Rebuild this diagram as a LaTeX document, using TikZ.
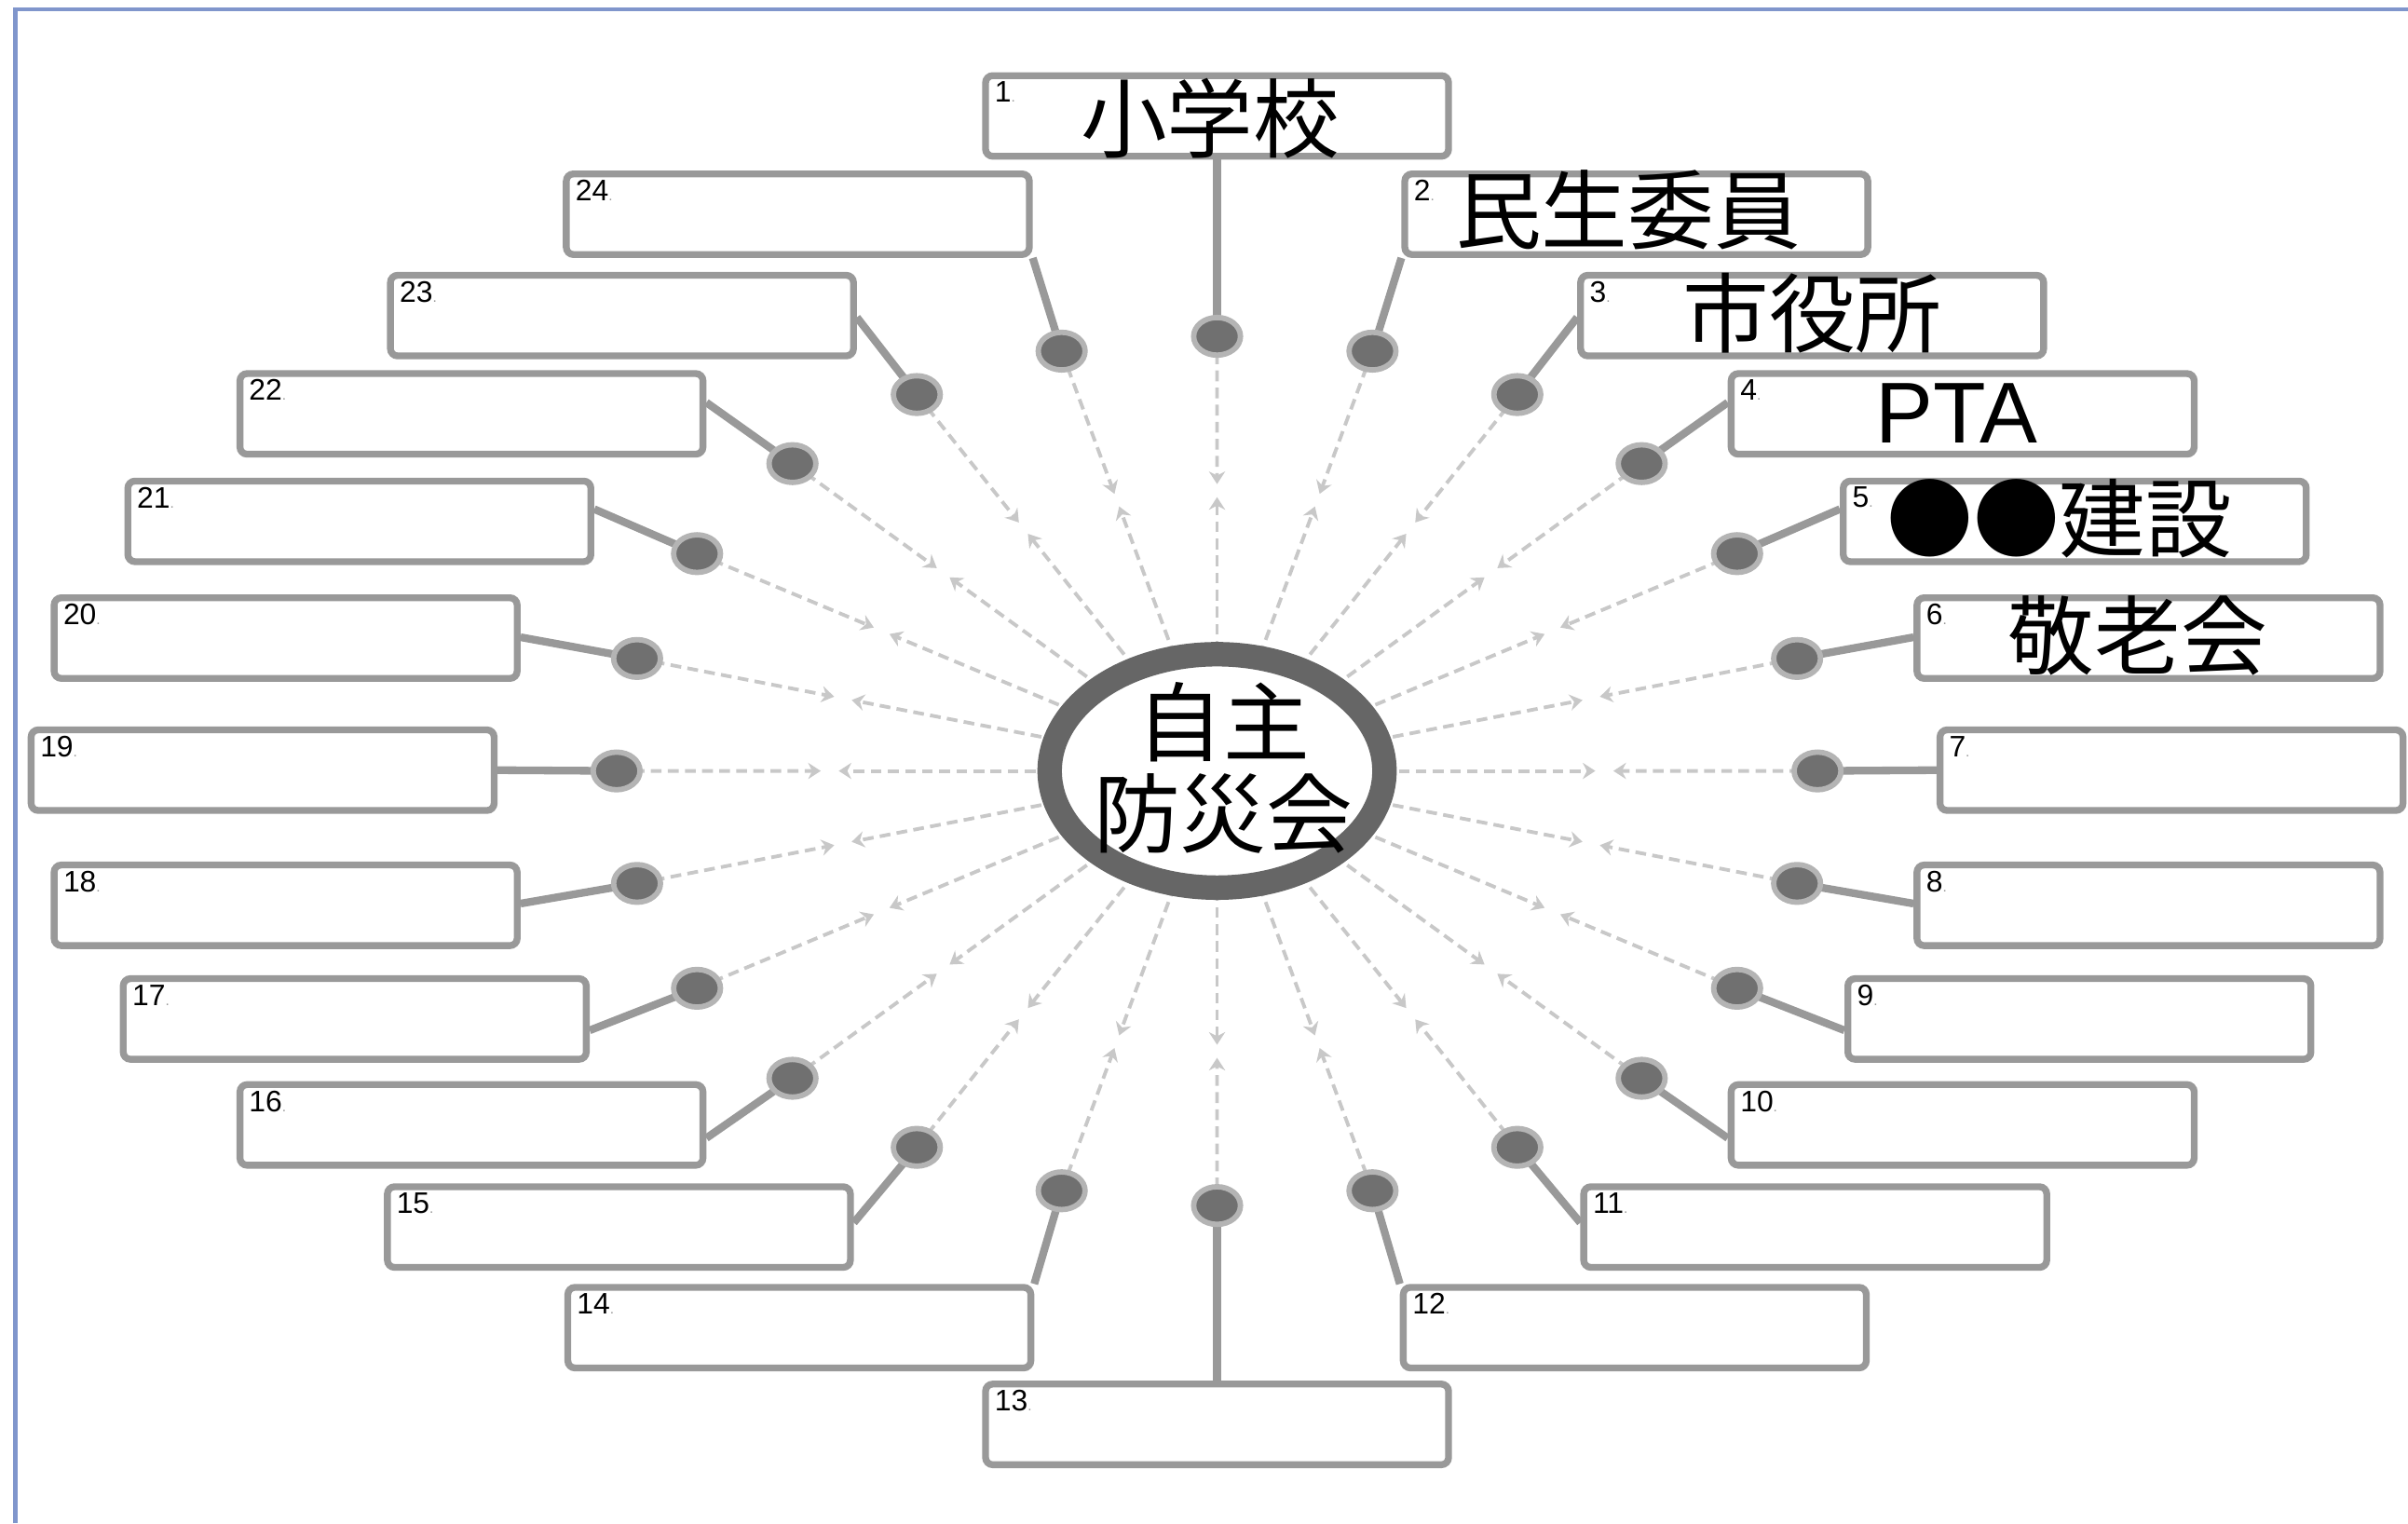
\documentclass[tikz,border=0pt]{standalone}
\usepackage{fontspec}
\newfontfamily\cjkfont{Noto Sans CJK JP}
\newfontfamily\arialfont{Liberation Sans}
\usetikzlibrary{shapes.geometric,calc,arrows.meta,backgrounds}
\definecolor{boxgray}{RGB}{153,153,153}
\definecolor{dotdark}{RGB}{112,112,112}
\definecolor{dotlight}{RGB}{180,180,180}
\definecolor{raygray}{RGB}{200,200,200}
\definecolor{ringgray}{RGB}{102,102,102}
\definecolor{framec}{RGB}{128,150,204}
\begin{document}
\begin{tikzpicture}[x=0.03cm,y=-0.03cm,
  box/.style={draw=boxgray, line width=3.8pt, rounded corners=4pt, fill=white,
    minimum width=9.045cm, minimum height=1.575cm, inner sep=0pt},
  dotnode/.style={ellipse, fill=dotdark, draw=dotlight, line width=3pt,
    minimum width=0.915cm, minimum height=0.735cm, inner sep=0pt},
  link/.style={draw=boxgray, line width=4.3pt},
  ray/.style={draw=raygray, line width=2pt, dash pattern=on 6pt off 3.5pt,
    -{Stealth[length=7pt,width=9pt]}},
  num/.style={anchor=north west, inner sep=0pt, font=\arialfont\fontsize{16.5}{18}\selectfont},
  big/.style={inner sep=0pt, font=\cjkfont\fontsize{48}{56}\selectfont},
  ringnode/.style={ellipse, draw=ringgray, line width=13.6pt, fill=white,
    minimum width=6.54cm, minimum height=4.56cm, inner sep=0pt},
  framestyle/.style={draw=framec, line width=2.2pt}
]
\useasboundingbox (0,0) rectangle (1568,992);

% frame
\draw[framestyle] (10,992) -- (10,6) -- (1568,6);

% boxes
\node[box] (b1) at (792.5,75.5) {};
\node[box] (b13) at (792.5,927.5) {};
\foreach \k/\dx/\cy in {2/273/139.5, 3/387.5/205.5, 4/485.5/269.5, 5/558.5/339.5,
  6/606.5/415.5, 7/621.5/501.5, 8/606.5/589.5, 9/561.5/663.5, 10/485.5/732.5,
  11/389.5/799, 12/272/864.5}{
  \pgfmathtruncatemacro\m{26-\k}
  \node[box] (b\k) at ({792.5+\dx},\cy) {};
  \node[box] (b\m) at ({792.5-\dx},\cy) {};
}

% number labels
\foreach \k in {1,...,24}{
  \node[num] (n\k) at ($(b\k.north west)+(8,6)$) {\k{\color{boxgray}\fontsize{8}{8}\selectfont.}};
}

% dots
\foreach \k in {1,...,24}{
  \pgfmathsetmacro\th{90-15*(\k-1)}
  \node[dotnode] (d\k) at ({792.5+391*cos(\th)},{502-283*sin(\th)}) {};
}

% centre
\node[ringnode] (c) at (792.5,502) {};
\node[inner sep=0pt, align=center, font=\cjkfont\fontsize{48}{51}\selectfont] (ct) at (796.5,500) {自主\\防災会};

% box texts
\node[big] (t1) at (788,77) {小学校};
\node[big] (t2) at (1060,137) {民生委員};
\node[big] (t3) at (1180,204) {市役所};
\node[inner sep=0pt, font=\arialfont\fontsize{48}{56}\selectfont] (t4) at (1274,269) {PTA};
\node[big] (t5) at (1341,338) {●●建設};
\node[big] (t6) at (1392,414) {敬老会};

\begin{pgfonlayer}{background}
  \draw[link] (d1.center) -- (b1.south);
  \draw[link] (d13.center) -- (b13.north);
  \draw[link] (d2.center) -- (b2.south west);
  \draw[link] (d24.center) -- (b24.south east);
  \draw[link] (d12.center) -- (b12.north west);
  \draw[link] (d14.center) -- (b14.north east);
  \foreach \k/\f in {3/0.52, 4/0.37, 5/0.36, 6/0.49, 7/0.5, 8/0.48, 9/0.63, 10/0.65, 11/0.45}{
    \pgfmathtruncatemacro\m{26-\k}
    \draw[link] (d\k.center) -- ($(b\k.north west)!\f!(b\k.south west)$);
    \draw[link] (d\m.center) -- ($(b\m.north east)!\f!(b\m.south east)$);
  }
  \foreach \k in {1,...,24}{
    \draw[ray] ($(c.center)!0.274!(d\k.center)$) -- ($(c.center)!0.63!(d\k.center)$);
    \draw[ray] (d\k.center) -- ($(c.center)!0.66!(d\k.center)$);
  }
\end{pgfonlayer}
\end{tikzpicture}
\end{document}
